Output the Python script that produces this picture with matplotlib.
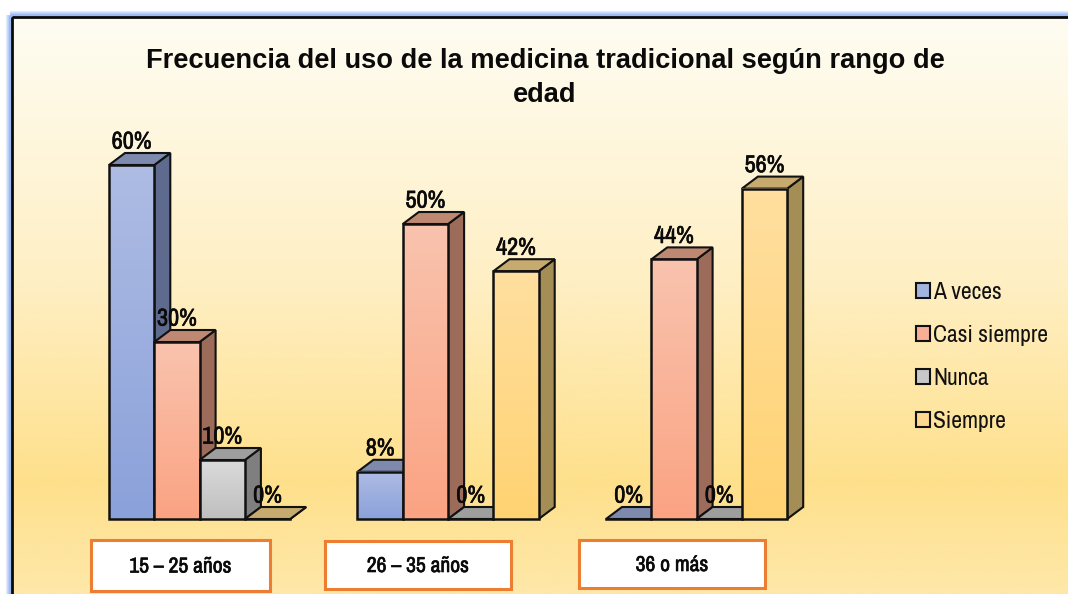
import matplotlib
matplotlib.use("Agg")
import matplotlib.pyplot as plt
import matplotlib.patheffects as pe
import numpy as np
from matplotlib.colors import LinearSegmentedColormap
from matplotlib.patches import Patch, Polygon, Rectangle

# datos
grupos = ["15 – 25 años", "26 – 35 años", "36 o más"]
series = ["A veces", "Casi siempre", "Nunca", "Siempre"]
a_veces = [60, 8, 0]
casi_siempre = [30, 50, 44]
nunca = [10, 0, 0]
siempre = [0, 42, 56]
valores = [a_veces, casi_siempre, nunca, siempre]

titulo = "Frecuencia del uso de la medicina tradicional según rango de\nedad"

# colores: frente arriba, frente abajo, lado, tapa, leyenda
frente_arriba = ["#AEBCE4", "#F9C3AE", "#DADADA", "#FFDF9F"]
frente_abajo = ["#8BA1DA", "#FBA383", "#BFBFBF", "#FFD272"]
lados = ["#5E6A8E", "#9C6B5A", "#7F7F7F", "#A58E55"]
tapas = ["#7D8AAE", "#BE8872", "#9E9E9E", "#C6AA6E"]
leyenda_col = ["#A3B3DF", "#F8AF98", "#C8C8C8", "#FFD88F"]

angosta = ["Archivo Narrow", "Liberation Sans"]
negrita = [pe.withStroke(linewidth=0.45, foreground="#0A0A0A")]

W, H = 1068, 594
fig = plt.figure(figsize=(W / 100, H / 100), dpi=100, facecolor="white")

# capa de fondo en pixeles
fondo = fig.add_axes([0, 0, 1, 1], zorder=0)
fondo.set_axis_off()

for lw, alfa in [(6, 0.2), (4, 0.35), (2.5, 0.55)]:
    fondo.add_patch(Rectangle((9.5, 14.5), W, H, fill=False, ec="#7FA8F0", lw=lw, alpha=alfa))

cmap_fondo = LinearSegmentedColormap.from_list(
    "fondo", [(0, "#FFFDF3"), (0.45, "#FEEFC4"), (0.8, "#FEE08C"), (1, "#FEE8AA")])
fondo.imshow(np.linspace(0, 1, 256).reshape(-1, 1), cmap=cmap_fondo, aspect="auto",
             extent=(12, W + 5, H + 5, 17), zorder=1)
fondo.add_patch(Rectangle((12, 17), W, H, fill=False, ec="#0A0A0A", lw=2, zorder=2))
fondo.set_xlim(0, W)
fondo.set_ylim(H, 0)

fondo.text(545, 78, titulo, ha="center", va="center", fontsize=19.6, fontweight="bold",
           family="Liberation Sans", linespacing=1.45, color="#0A0A0A", zorder=3)

cajas = [(91, 540, 179, 51), (325, 541, 186, 48), (579, 540, 186, 48)]
for (x0, y0, ancho, alto), nombre in zip(cajas, grupos):
    fondo.add_patch(Rectangle((x0, y0), ancho, alto, fc="white", ec="#ED7D31", lw=2.2, zorder=3))
    fondo.text(x0 + ancho / 2, y0 + alto / 2 + 1, nombre, ha="center", va="center", fontsize=15.5,
               family=angosta, color="#0A0A0A", zorder=4, path_effects=negrita)

# ejes de las barras: x en grupos, y en porcentaje
ax = fig.add_axes([0, 0, 1, 1], zorder=1)
ax.set_axis_off()
ax.patch.set_alpha(0)

paso_px = 248.5
px_pct = 5.9
ancho_barra = 45.3 / paso_px
dx = 16 / paso_px
dy = 12 / px_pct

xlim = (-109 / paso_px, (W - 109) / paso_px)
ylim = (-(H - 519) / px_pct, 519 / px_pct)

z = 2
for g in range(len(grupos)):
    for s in range(len(series)):
        v = valores[s][g]
        x0 = g + s * ancho_barra
        x1 = x0 + ancho_barra
        # lado y tapa
        ax.add_patch(Polygon([(x1, 0), (x1 + dx, dy), (x1 + dx, v + dy), (x1, v)],
                             fc=lados[s], ec="#111111", lw=1.5, zorder=z))
        ax.add_patch(Polygon([(x0, v), (x0 + dx, v + dy), (x1 + dx, v + dy), (x1, v)],
                             fc=tapas[s], ec="#111111", lw=1.5, zorder=z))
        if v > 0:
            cm = LinearSegmentedColormap.from_list("b", [frente_arriba[s], frente_abajo[s]])
            ax.imshow(np.linspace(0, 1, 64).reshape(-1, 1), cmap=cm, aspect="auto",
                      extent=(x0, x1, 0, v), zorder=z + 0.1)
            ax.add_patch(Rectangle((x0, 0), ancho_barra, v, fill=False, ec="#111111", lw=1.8, zorder=z + 0.2))
        else:
            ax.plot([x0, x1], [0, 0], color="#111111", lw=1.8, zorder=z + 0.2)
        z += 1

# etiquetas encima de todas las barras
for g in range(len(grupos)):
    for s in range(len(series)):
        v = valores[s][g]
        ax.annotate(f"{v}%", (g + (s + 0.5) * ancho_barra, v), xytext=(0, 16.5), textcoords="offset points",
                    ha="center", va="center", fontsize=17.5, family=angosta,
                    color="#0A0A0A", zorder=50, path_effects=negrita)

ax.set_xlim(*xlim)
ax.set_ylim(*ylim)

manejadores = [Patch(fc=c, ec="#111111", lw=1.5) for c in leyenda_col]
ax.legend(manejadores, series, loc="center left", bbox_to_anchor=(916 / W, 1 - 357 / H),
          bbox_transform=fig.transFigure, frameon=False, handlelength=0.6, handleheight=0.6,
          handletextpad=0.12, labelspacing=0.93, borderpad=0, borderaxespad=0,
          prop={"family": angosta, "size": 17}, labelcolor="#111111")

fig.savefig("out.png", dpi=100)
